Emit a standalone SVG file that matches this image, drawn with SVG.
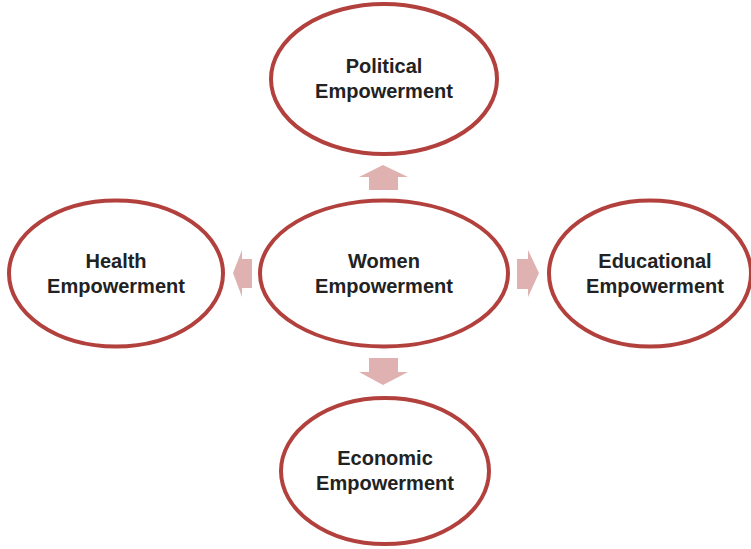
<svg xmlns="http://www.w3.org/2000/svg" width="751" height="549" viewBox="0 0 751 549">
<style>
.n{fill:#ffffff;stroke:#b2413e;stroke-width:4}
.t{font-family:"Liberation Sans",Arial,sans-serif;font-weight:bold;font-size:20px;fill:#222222;text-anchor:middle}
.a{fill:#dfb1b0}
</style>
<rect width="751" height="549" fill="#ffffff"/>
<g id="connectors">
<polygon class="a" points="369,190 398,190 398,177 408,177 383,165 359,177 369,177"/>
<polygon class="a" points="369,358 398,358 398,372 408,372 383,385 359,372 369,372"/>
<polygon class="a" points="252,259 252,288 242,288 242,297 233,273 242,250 242,259"/>
<polygon class="a" points="517,259 517,289 528,289 528,297 539,273 528,250 528,259"/>
</g>
<g id="political">
<ellipse class="n" cx="384" cy="79" rx="113" ry="75"/>
<text class="t" x="384" y="73">Political</text>
<text class="t" x="384" y="98">Empowerment</text>
</g>
<g id="women">
<ellipse class="n" cx="384" cy="273.5" rx="124" ry="73"/>
<text class="t" x="384" y="268">Women</text>
<text class="t" x="384" y="293">Empowerment</text>
</g>
<g id="health">
<ellipse class="n" cx="116" cy="273.5" rx="107" ry="73"/>
<text class="t" x="116" y="268">Health</text>
<text class="t" x="116" y="293">Empowerment</text>
</g>
<g id="educational">
<ellipse class="n" cx="650" cy="273.5" rx="101" ry="73"/>
<text class="t" x="655" y="268">Educational</text>
<text class="t" x="655" y="293">Empowerment</text>
</g>
<g id="economic">
<ellipse class="n" cx="385" cy="471" rx="104" ry="73"/>
<text class="t" x="385" y="465">Economic</text>
<text class="t" x="385" y="490">Empowerment</text>
</g>
</svg>
